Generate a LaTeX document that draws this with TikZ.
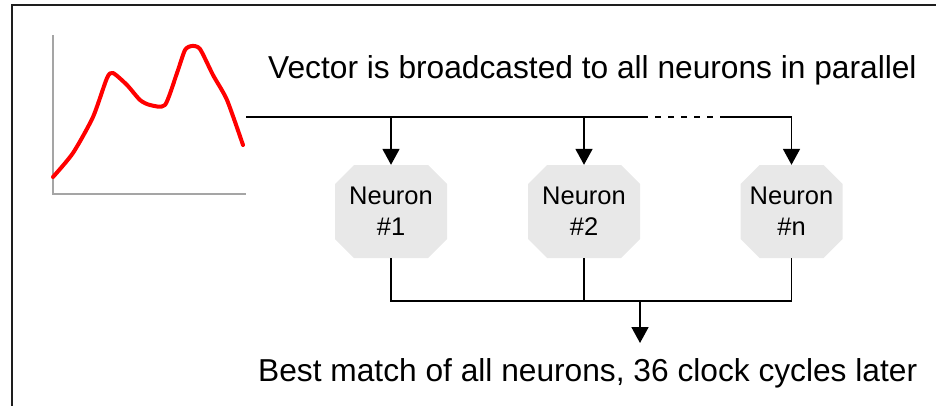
\documentclass[tikz,border=0pt]{standalone}
\usepackage{fontspec}
\setmainfont{Liberation Sans}
\usetikzlibrary{arrows.meta}
\definecolor{cellfill}{RGB}{232,232,232}
\definecolor{axisgray}{RGB}{165,165,165}
\definecolor{framegray}{RGB}{30,30,30}
\tikzset{
  % octagonal cell: a rectangle whose corners are cut off by 19pt
  neuron/.style={rectangle, draw=none, minimum height=93pt, inner sep=0pt,
    align=center, font=\fontsize{25.5}{31}\selectfont,
    path picture={
      \fill[cellfill]
        ([xshift=19pt]path picture bounding box.north west)
        -- ([xshift=-19pt]path picture bounding box.north east)
        -- ([yshift=-19pt]path picture bounding box.north east)
        -- ([yshift=19pt]path picture bounding box.south east)
        -- ([xshift=-19pt]path picture bounding box.south east)
        -- ([xshift=19pt]path picture bounding box.south west)
        -- ([yshift=19pt]path picture bounding box.south west)
        -- ([yshift=-19pt]path picture bounding box.north west)
        -- cycle;}},
  caption/.style={inner sep=0pt, anchor=base west,
    font=\fontsize{31.7}{38}\selectfont},
  wire/.style={line width=1.8pt, black},
  feed/.style={wire, -{Triangle[width=17pt,length=16pt]}}
}
\begin{document}
\begin{tikzpicture}[x=1pt,y=-1pt]
  \useasboundingbox (0,0) rectangle (936,405);
  \clip (0,0) rectangle (936,405);

  % outer frame (continues past the right and bottom edges)
  \draw[line width=2pt, framegray] (12,5) rectangle (960,430);

  % input vector plot
  \draw[line width=2pt, axisgray] (53,35) -- (53,194) -- (246,194);
  \draw[line width=4pt, red, line join=round, line cap=round]
    plot[smooth, tension=0.4] coordinates {
      (53,177) (73,153) (93,117) (107,78) (113,73) (127,85) (140,100)
      (150,105) (165,105) (177,73) (185,50) (192,46) (200,49) (213,75)
      (227,100) (243,145)};

  % captions
  \node[caption] (top) at (268,78) {Vector is broadcasted to all neurons in parallel};
  \node[caption] (best) at (258,381) {Best match of all neurons, 36 clock cycles later};

  % neurons
  \node[neuron, minimum width=112pt] (n1) at (391,211.5) {Neuron\\\#1};
  \node[neuron, minimum width=112pt] (n2) at (584,211.5) {Neuron\\\#2};
  \node[neuron, minimum width=102pt] (nn) at (791.5,211.5) {Neuron\\\#n};

  % broadcast bus
  \coordinate (busL) at (246,117);
  \coordinate (dashA) at (642,117);
  \coordinate (dashB) at (720,117);
  \draw[wire] (busL) -- (dashA);
  \draw[wire, dash pattern=on 6pt off 7pt] (dashA) -- (dashB);
  \draw[feed] (dashB) -| (nn.north);
  \draw[feed] (busL -| n1) -- (n1.north);
  \draw[feed] (busL -| n2) -- (n2.north);

  % result collection
  \coordinate (merge) at (640,301);
  \coordinate (outT) at (640,343);
  \draw[wire] (n1.south) |- (nn.south |- merge) -- (nn.south);
  \draw[wire] (n2.south) -- (n2.south |- merge);
  \draw[feed] (merge) -- (outT);
\end{tikzpicture}
\end{document}
